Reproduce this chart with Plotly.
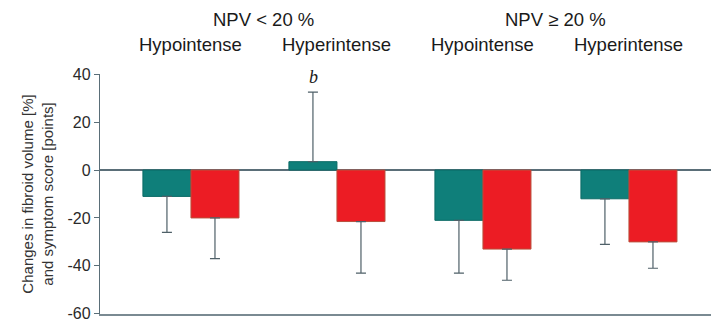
import plotly.graph_objects as go

groups = ["NPV < 20 % Hypointense", "NPV < 20 % Hyperintense", "NPV ≥ 20 % Hypointense", "NPV ≥ 20 % Hyperintense"]
volume = [-11, 3.5, -21, -12]
volume_err = [15, 29, 22, 19]
symptom = [-20, -21.5, -33, -30]
symptom_err = [17, 21.5, 13, 11]
npv_labels = ["NPV < 20 %", "NPV ≥ 20 %"]
intensity_labels = ["Hypointense", "Hyperintense", "Hypointense", "Hyperintense"]
y_ticks = [40, 20, 0, -20, -40, -60]
y_tick_labels = ["40", "20", "0", "-20", "-40", "-60"]

xpos = list(range(len(groups)))

def split_err(vals, errs):
    plus = [e if v >= 0 else 0 for v, e in zip(vals, errs)]
    minus = [e if v < 0 else 0 for v, e in zip(vals, errs)]
    return plus, minus

vp, vm = split_err(volume, volume_err)
sp, sm = split_err(symptom, symptom_err)
err_color = "#4f6068"

fig = go.Figure()
fig.add_trace(go.Bar(
    x=xpos, y=volume, marker=dict(color="#0f7f7a", line=dict(color="#0c6b66", width=1)),
    error_y=dict(type="data", symmetric=False, array=vp, arrayminus=vm,
                 color=err_color, thickness=1.2, width=5),
    showlegend=False))
fig.add_trace(go.Bar(
    x=xpos, y=symptom, marker=dict(color="#ec1c24", line=dict(color="#b8503c", width=1)),
    error_y=dict(type="data", symmetric=False, array=sp, arrayminus=sm,
                 color=err_color, thickness=1.2, width=5),
    showlegend=False))

ann = []
for i, lab in enumerate(intensity_labels):
    ann.append(dict(x=i, y=1.125, xref="x", yref="paper", text=lab, showarrow=False,
                    font=dict(size=18.5, color="#1a1a1a"), xanchor="center", yanchor="middle"))
for j, lab in enumerate(npv_labels):
    ann.append(dict(x=2 * j + 0.5, y=1.225, xref="x", yref="paper", text=lab, showarrow=False,
                    font=dict(size=18.5, color="#1a1a1a"), xanchor="center", yanchor="middle"))
ann.append(dict(x=1 - 0.164, y=volume[1] + volume_err[1], xref="x", yref="y", text="<i>b</i>",
                showarrow=False, yshift=15, font=dict(family="Liberation Serif", size=18, color="#1a1a1a")))

fig.update_layout(
    width=711, height=322,
    margin=dict(l=100, r=0, t=74, b=8),
    paper_bgcolor="white", plot_bgcolor="white",
    barmode="group", bargap=0.342, bargroupgap=0,
    font=dict(family="Liberation Sans, Arial, sans-serif", color="#333333"),
    annotations=ann,
    xaxis=dict(range=[-0.623, 3.562], showticklabels=False, ticks="", showgrid=False,
               showline=True, linecolor="#7a8a92", linewidth=1.5, zeroline=False, fixedrange=True),
    yaxis=dict(range=[-60.1, 40.1], tickvals=y_ticks, ticktext=y_tick_labels,
               ticks="outside", ticklen=5, tickcolor="#5a6e78",
               showgrid=False, showline=True, linecolor="#5a6e78", linewidth=1.2,
               zeroline=True, zerolinecolor="#5a6e78", zerolinewidth=1.2,
               tickfont=dict(size=16, color="#2a2a2a"), fixedrange=True,
               ticklabeloverflow="allow", automargin=False,
               title=dict(text="Changes in fibroid volume [%]<br>and symptom score [points]",
                          font=dict(size=15, color="#333333"), standoff=10)),
)

fig.write_html("out.html", config={"displayModeBar": False, "staticPlot": True},
               post_script="document.body.style.margin='0';document.body.style.overflow='hidden';")
